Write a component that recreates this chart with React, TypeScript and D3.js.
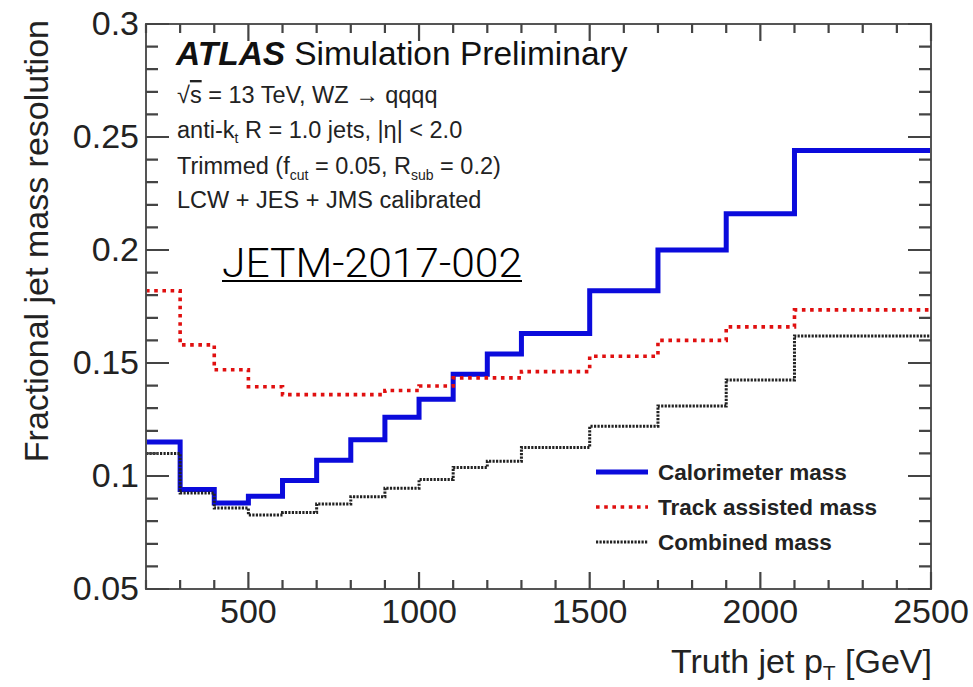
import React from "react";
import * as d3 from "d3";

const binEdges = [200, 300, 400, 500, 600, 700, 800, 900, 1000, 1100, 1200, 1300, 1500, 1700, 1900, 2100, 2500];
const caloMass = [0.115, 0.094, 0.088, 0.091, 0.098, 0.107, 0.116, 0.126, 0.134, 0.145, 0.154, 0.163, 0.182, 0.200, 0.216, 0.244];
const trackMass = [0.182, 0.158, 0.147, 0.1395, 0.136, 0.136, 0.136, 0.1378, 0.1398, 0.1434, 0.1434, 0.1462, 0.153, 0.160, 0.166, 0.1735];
const combinedMass = [0.110, 0.0925, 0.0858, 0.0827, 0.0838, 0.0876, 0.0908, 0.0946, 0.0985, 0.1038, 0.1065, 0.1126, 0.122, 0.131, 0.1425, 0.162];

const xMajorTicks = [500, 1000, 1500, 2000, 2500];
const xTickLabels = ["500", "1000", "1500", "2000", "2500"];
const yMajorTicks = [0.05, 0.1, 0.15, 0.2, 0.25, 0.3];
const yTickLabels = ["0.05", "0.1", "0.15", "0.2", "0.25", "0.3"];

const legendLabels = ["Calorimeter mass", "Track assisted mass", "Combined mass"];

const W = 973, H = 687;
const L = 146, R = 931, T = 24, B = 589;
const FONT = "'Liberation Sans', Arial, Helvetica, sans-serif";

export default function App() {
  const x = d3.scaleLinear().domain([200, 2500]).range([L, R]);
  const y = d3.scaleLinear().domain([0.05, 0.3]).range([B, T]);

  const stepPath = (vals: number[]) => {
    const pts: [number, number][] = vals.map((v, i) => [binEdges[i], v]);
    pts.push([binEdges[binEdges.length - 1], vals[vals.length - 1]]);
    return d3
      .line<[number, number]>()
      .x((d) => x(d[0]))
      .y((d) => y(d[1]))
      .curve(d3.curveStepAfter)(pts) as string;
  };

  const xMinor = d3.range(200, 2501, 100).filter((v) => !xMajorTicks.includes(v));
  const yMinor = d3
    .range(5, 31, 1)
    .map((v) => v / 100)
    .filter((v) => !yMajorTicks.some((m) => Math.abs(m - v) < 1e-9));

  const frameColor = "#555";
  const tickColor = "#444";
  const tickW = 2.2;

  const series = [
    { vals: caloMass, color: "#0b0bdc", width: 5, dash: undefined as string | undefined },
    { vals: trackMass, color: "#e01010", width: 3.6, dash: "3.6,4.6" },
    { vals: combinedMass, color: "#222", width: 3, dash: "2.2,1.3" },
  ];

  const infoSize = 23.5;
  const tickPaths: string[] = [];
  xMajorTicks.forEach((v) => {
    tickPaths.push(`M${x(v)},${B}V${B - 17}`);
    tickPaths.push(`M${x(v)},${T}V${T + 17}`);
  });
  xMinor.forEach((v) => {
    tickPaths.push(`M${x(v)},${B}V${B - 9}`);
    tickPaths.push(`M${x(v)},${T}V${T + 9}`);
  });
  yMajorTicks.forEach((v) => {
    tickPaths.push(`M${L},${y(v)}H${L + 23}`);
    tickPaths.push(`M${R},${y(v)}H${R - 23}`);
  });
  yMinor.forEach((v) => {
    tickPaths.push(`M${L},${y(v)}H${L + 12}`);
    tickPaths.push(`M${R},${y(v)}H${R - 12}`);
  });

  return (
    <svg width={W} height={H} style={{ position: "absolute", left: 0, top: 0, background: "#fff" }} fontFamily={FONT}>
      <rect x={0} y={0} width={W} height={H} fill="#fff" />
      {/* data */}
      <g>
        {series.map((s, i) => (
          <path key={i} d={stepPath(s.vals)} fill="none" stroke={s.color} strokeWidth={s.width} strokeDasharray={s.dash} />
        ))}
      </g>
      {/* frame and ticks */}
      <rect x={L} y={T} width={R - L} height={B - T} fill="none" stroke={frameColor} strokeWidth={2} />
      <path d={tickPaths.join(" ")} fill="none" stroke={tickColor} strokeWidth={tickW} />
      {/* tick labels */}
      {xMajorTicks.map((v, i) => (
        <text key={"xl" + v} x={x(v)} y={623} textAnchor="middle" fontSize={34} fill="#222">
          {xTickLabels[i]}
        </text>
      ))}
      {yMajorTicks.map((v, i) => (
        <text key={"yl" + v} x={139} y={y(v) + 11} textAnchor="end" fontSize={34} fill="#222">
          {yTickLabels[i]}
        </text>
      ))}
      {/* axis titles */}
      <text x={932} y={673} textAnchor="end" fontSize={34} fill="#222">
        Truth jet p<tspan fontSize={21} dy={7}>T</tspan>
        <tspan dy={-7}> [GeV]</tspan>
      </text>
      <text transform="translate(48,20) rotate(-90)" textAnchor="end" fontSize={34} fill="#222">
        Fractional jet mass resolution
      </text>
      {/* ATLAS label */}
      <text x={176} y={65} fontSize={33.5} fill="#111">
        <tspan fontWeight="bold" fontStyle="italic">ATLAS</tspan>
        <tspan dx={9}>Simulation Preliminary</tspan>
      </text>
      <text x={177} y={103} fontSize={infoSize} fill="#222">
        √<tspan textDecoration="overline">s</tspan> = 13 TeV, WZ → qqqq
      </text>
      <text x={177} y={138} fontSize={infoSize} fill="#222">
        anti-k<tspan fontSize={14} dy={5}>t</tspan>
        <tspan dy={-5}> R = 1.0 jets, |η| &lt; 2.0</tspan>
      </text>
      <text x={177} y={174} fontSize={infoSize} fill="#222">
        Trimmed (f<tspan fontSize={14} dy={6}>cut</tspan>
        <tspan dy={-6}> = 0.05, R</tspan>
        <tspan fontSize={14} dy={6}>sub</tspan>
        <tspan dy={-6}> = 0.2)</tspan>
      </text>
      <text x={177} y={208} fontSize={infoSize} fill="#222">
        LCW + JES + JMS calibrated
      </text>
      {/* JETM label */}
      <text
        x={222}
        y={277}
        fontSize={40}
        fontFamily="Roboto, 'Open Sans', sans-serif"
        fontWeight={300}
        fill="#000"
        textLength={300}
        lengthAdjust="spacingAndGlyphs"
      >
        JETM-2017-002
      </text>
      <line x1={222} x2={522} y1={281} y2={281} stroke="#000" strokeWidth={2} />
      {/* legend */}
      {series.map((s, i) => (
        <g key={"lg" + i}>
          <line x1={596} x2={648} y1={472 + i * 35} y2={472 + i * 35} stroke={s.color} strokeWidth={s.width} strokeDasharray={s.dash} />
          <text x={658} y={472 + i * 35 + 8} fontSize={22.5} fontWeight="bold" fill="#222">
            {legendLabels[i]}
          </text>
        </g>
      ))}
    </svg>
  );
}
